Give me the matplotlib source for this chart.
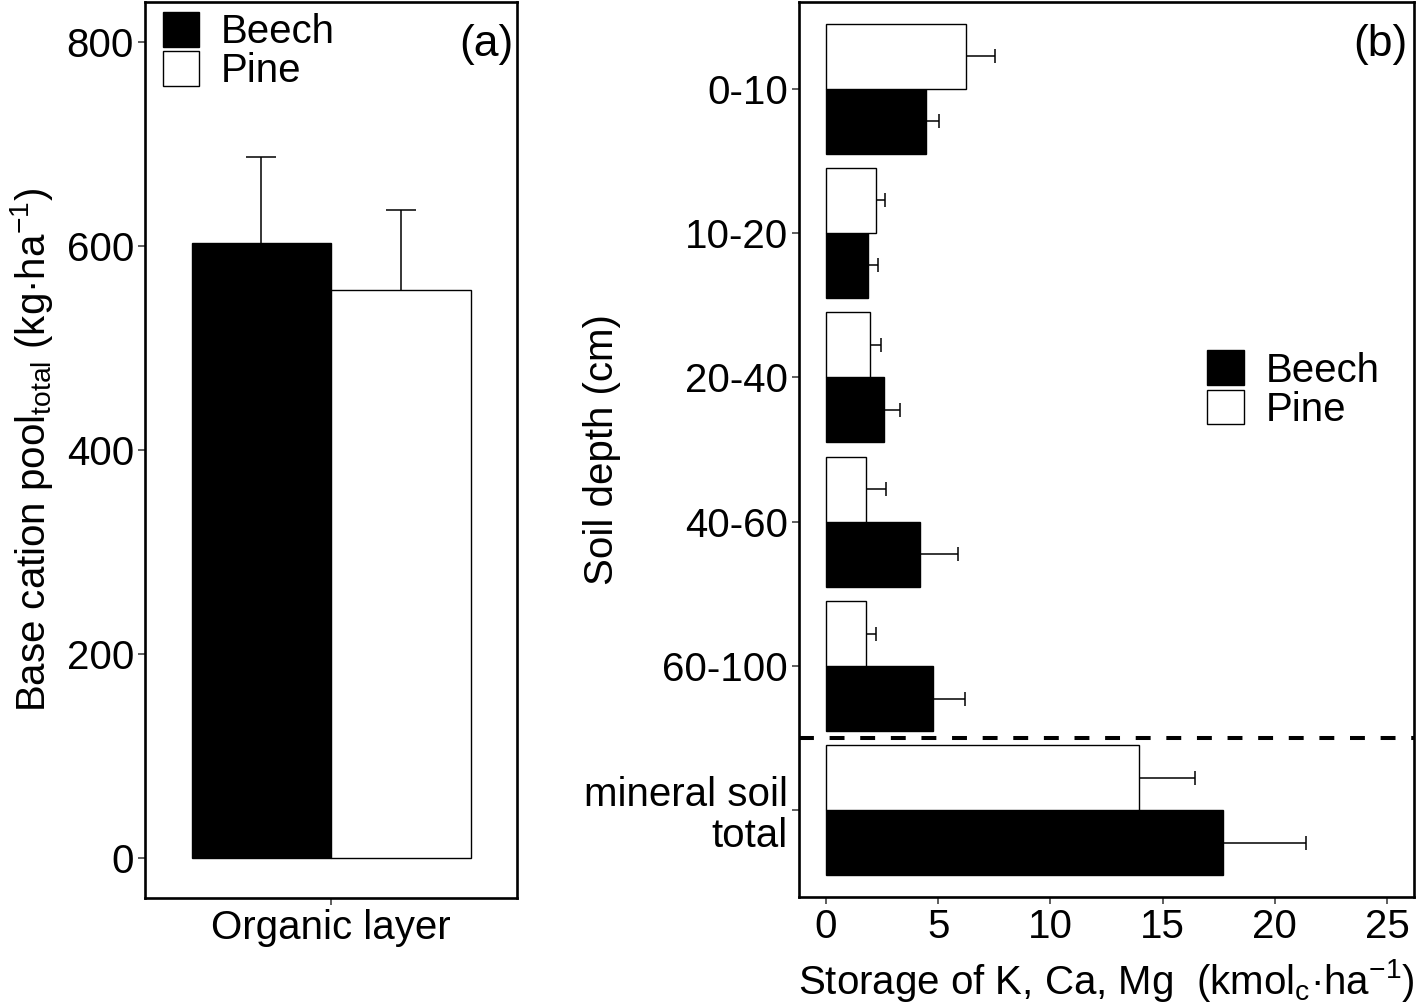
import numpy as np
import matplotlib
matplotlib.use("Agg")
import matplotlib.pyplot as plt

plt.rcParams['font.family'] = ['Liberation Sans', 'DejaVu Sans']
plt.rcParams['mathtext.fontset'] = 'custom'
plt.rcParams['mathtext.rm'] = 'Liberation Sans'
plt.rcParams['mathtext.it'] = 'Liberation Sans:italic'
plt.rcParams['mathtext.bf'] = 'Liberation Sans:bold'

# panel (a): organic layer
organic_label = ["Organic layer"]
beech_org = [603]
beech_org_err = [84]
pine_org = [557]
pine_org_err = [78]

# panel (b): mineral soil by depth
depths = ["0-10", "10-20", "20-40", "40-60", "60-100", "mineral soil\ntotal"]
beech_min = [4.46, 1.87, 2.58, 4.17, 4.77, 17.68]
beech_min_err = [0.58, 0.44, 0.72, 1.70, 1.44, 3.72]
pine_min = [6.24, 2.23, 1.98, 1.78, 1.79, 13.97]
pine_min_err = [1.29, 0.42, 0.48, 0.88, 0.46, 2.48]

fs = 29
W, H = 1418, 1007
fig = plt.figure(figsize=[W / 100, H / 100], dpi=100)


def style(ax):
    for s in ax.spines.values():
        s.set_linewidth(1.9)
        s.set_color('black')
    ax.tick_params(which='major', length=5, width=1.1, color='#333333',
                   labelsize=fs, pad=3)


def upper_err(ax, pos, val, err, horizontal, capsize):
    # one-sided error bar, no cap at the bar end
    lo = np.zeros(len(err))
    if horizontal:
        eb = ax.errorbar(val, pos, xerr=[lo, err], fmt='none', ecolor='black',
                         elinewidth=1.1, capsize=capsize, capthick=1.1, zorder=1)
    else:
        eb = ax.errorbar(pos, val, yerr=[lo, err], fmt='none', ecolor='black',
                         elinewidth=1.1, capsize=capsize, capthick=1.1, zorder=1)
    eb[1][0].set_visible(False)


# ---- panel (a)
ax1 = fig.add_axes([145 / W, (H - 898) / H, (517 - 145) / W, 896 / H])
x = np.arange(len(organic_label)) + 1
bw = 0.45
ax1.bar(x - bw / 2, beech_org, bw, color='black', edgecolor='black',
        linewidth=1.0, label='Beech', zorder=2)
ax1.bar(x + bw / 2, pine_org, bw, color='white', edgecolor='black',
        linewidth=1.0, label='Pine', zorder=2)
upper_err(ax1, x - bw / 2, beech_org, beech_org_err, False, 10.5)
upper_err(ax1, x + bw / 2, pine_org, pine_org_err, False, 10.5)
ax1.set_xlim(0.4, 1.6)
ax1.set_ylim(-39, 839)
ax1.set_xticks(x)
ax1.set_xticklabels(organic_label)
ax1.set_yticks([0, 200, 400, 600, 800])
ax1.set_ylabel("Base cation pool$_{\\mathrm{total}}$ (kg·ha$^{-1}$)",
               fontsize=fs, labelpad=8)
style(ax1)
ax1.text(0.99, 0.975, "(a)", transform=ax1.transAxes, ha='right', va='top',
         fontsize=32)
ax1.legend(loc='upper left', bbox_to_anchor=(0.02, 1.0), frameon=False,
           fontsize=fs, handlelength=0.9, handleheight=0.95,
           handletextpad=0.55, labelspacing=0.0, borderpad=0.25,
           borderaxespad=0)

# ---- panel (b)
ax2 = fig.add_axes([799 / W, (H - 897) / H, (1414 - 799) / W, 895 / H])
y = np.arange(len(depths))
ax2.barh(y + bw / 2, beech_min, bw, color='black', edgecolor='black',
         linewidth=1.0, label='Beech', zorder=2)
ax2.barh(y - bw / 2, pine_min, bw, color='white', edgecolor='black',
         linewidth=1.0, label='Pine', zorder=2)
upper_err(ax2, y + bw / 2, beech_min, beech_min_err, True, 5)
upper_err(ax2, y - bw / 2, pine_min, pine_min_err, True, 5)
ax2.axhline(len(depths) - 1.5, color='black', linewidth=2.9,
            linestyle=(0, (3.7, 3.9)), zorder=3)
ax2.set_ylim(len(depths) - 0.4, -0.6)
ax2.set_xlim(-1.2, 26.2)
ax2.set_yticks(y)
ax2.set_yticklabels(depths, ha='right', ma='right', linespacing=1.1)
ax2.set_xticks([0, 5, 10, 15, 20, 25])
ax2.set_ylabel("Soil depth (cm)", fontsize=fs)
ax2.yaxis.set_label_coords(-0.29, 0.5)
ax2.set_xlabel("Storage of K, Ca, Mg  (kmol$_{\\mathrm{c}}$·ha$^{-1}$)",
               fontsize=fs, labelpad=8)
style(ax2)
ax2.text(0.99, 0.975, "(b)", transform=ax2.transAxes, ha='right', va='top',
         fontsize=32)
handles, labels = ax2.get_legend_handles_labels()
ax2.legend(handles, labels, loc='center left', bbox_to_anchor=(0.664, 0.567),
           frameon=False, fontsize=fs, handlelength=0.9, handleheight=0.95,
           handletextpad=0.55, labelspacing=0.0, borderpad=0, borderaxespad=0)

fig.savefig("out.png", dpi=100)
